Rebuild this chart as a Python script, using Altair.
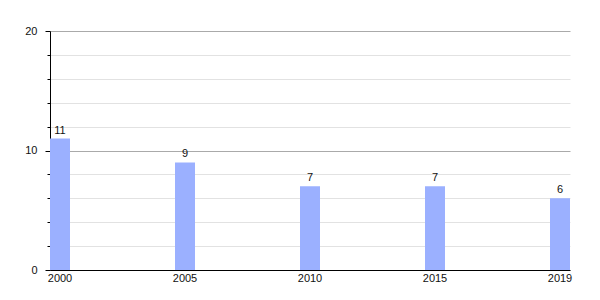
import altair as alt
import pandas as pd

years = ["2000", "2005", "2010", "2015", "2019"]
values = [11, 9, 7, 7, 6]
y_ticks = [0, 2, 4, 6, 8, 10, 12, 14, 16, 18, 20]

df = pd.DataFrame({"year": years, "value": values})

x = alt.X("year:N", sort=years, title=None,
          scale=alt.Scale(paddingInner=0.84, paddingOuter=0),
          axis=alt.Axis(labelAngle=0, ticks=False, domainColor="#000000",
                        labelFont="Liberation Sans", labelFontSize=11,
                        labelColor="#111111", labelPadding=2, grid=False))
y = alt.Y("value:Q", title=None,
          scale=alt.Scale(domain=[0, 20], nice=False),
          axis=alt.Axis(values=y_ticks, labelOverlap=False, tickCount=len(y_ticks),
                        labelExpr="datum.value % 10 === 0 ? datum.label : ''",
                        grid=True,
                        gridColor={"condition": {"test": "datum.value % 10 === 0", "value": "#aaaaaa"}, "value": "#e2e2e2"},
                        tickSize={"condition": {"test": "datum.value % 10 === 0", "value": 5}, "value": 3},
                        tickColor="#000000", domainColor="#000000",
                        labelFont="Liberation Sans", labelFontSize=11,
                        labelColor="#111111", labelPadding=8))

base = alt.Chart(df).encode(x=x, y=y)
bars = base.mark_bar(color="#9bb0ff")
text = base.mark_text(baseline="alphabetic", dy=-5, font="Liberation Sans",
                      fontSize=11, color="#111111").encode(text="value:Q")

chart = alt.layer(bars, text).properties(
    width=520, height=239,
    autosize=alt.AutoSizeParams(type="none"),
    padding={"left": 50, "top": 31, "right": 30, "bottom": 30},
).configure_view(stroke=None)

chart.save("out.html", embed_options={"renderer": "svg", "actions": False})
